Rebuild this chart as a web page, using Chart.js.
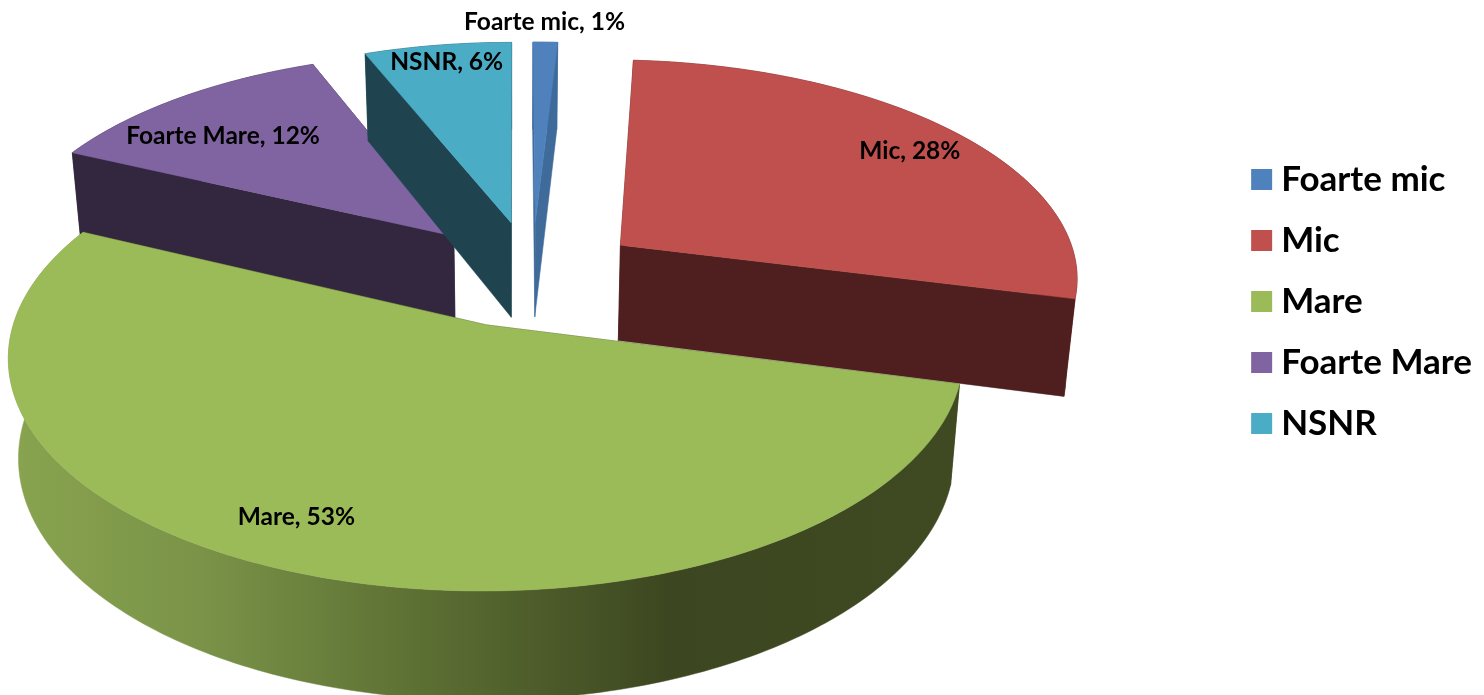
<!DOCTYPE html>
<html><head><meta charset="utf-8">
<style>html,body{margin:0;padding:0;background:#fff;overflow:hidden}#w{width:1484px;height:695px;position:relative}</style>
<script src="https://cdn.jsdelivr.net/npm/chart.js@4"></script>
</head><body><div id="w"><canvas id="c"></canvas></div>
<script>
const categories = ['Foarte mic','Mic','Mare','Foarte Mare','NSNR'];
const percentages = [1,28,53,12,6];
const sliceColors = ['#4f81bd','#c0504d','#9bbb59','#8064a2','#4bacc6'];
const wallColors = ['#3f6b9b','#4f1f1f','#3f4a22','#33273f','#1f444f'];
const explodeX = [21,108,-28,-63,-4];
const explodeY = [-137,-86,82,-106,-136];
const paintOrder = [3,4,0,1,2];
const labelFrac = [1.136,0.845,0.8,0.764,0.892];
const labelNudge = [[-2,1],[6,4],[-44,-1],[-16,7],[2,0]];
const greenWallStops = [[20,'#88a34f'],[200,'#7a9348'],[400,'#5f7335'],[670,'#3c4620'],[950,'#3f4a22']];
const view = {cx:0.34704, cy:0.41007, K:0.475, D:3500, H:97, taper:0.02, wallPow:0.7};

const pie3d = {
  id:'pie3d',
  beforeDatasetsDraw(chart){
    const ctx = chart.ctx, meta = chart.getDatasetMeta(0);
    const cx = chart.width*view.cx, cy = chart.height*view.cy;
    const poly = (pts, fill)=>{ctx.beginPath();pts.forEach((p,i)=>i?ctx.lineTo(p[0],p[1]):ctx.moveTo(p[0],p[1]));ctx.closePath();ctx.fillStyle=fill;ctx.fill();ctx.strokeStyle=fill;ctx.lineWidth=0.5;ctx.stroke();};
    const geom = i=>{
      const el = meta.data[i], mid=(el.startAngle+el.endAngle)/2, ox=explodeX[i], oy=explodeY[i];
      const P=(r,a,z)=>{
        const X=ox+r*Math.cos(a), Y=oy+r*Math.sin(a), f=1/(1-Y/view.D), t=1-z*view.taper;
        return [cx+X*f*t, cy+view.K*Y*f+z*view.H*Math.pow(f,view.wallPow)];
      };
      return {el,P,mid};
    };
    paintOrder.forEach(i=>{
      const {el,P}=geom(i), R=el.outerRadius, s=el.startAngle, e=el.endAngle;
      const n=Math.max(2,Math.ceil((e-s)/(Math.PI/180)));
      const arc=z=>{const a=[];for(let k=0;k<=n;k++)a.push(P(R,s+(e-s)*k/n,z));return a;};
      const wall=wallColors[i];
      poly([P(0,s,0),P(R,s,0),P(R,s,1),P(0,s,1)],wall);
      poly([P(0,e,0),P(R,e,0),P(R,e,1),P(0,e,1)],wall);
      let fill=wall;
      if(i===2){fill=ctx.createLinearGradient(0,0,chart.width,0);greenWallStops.forEach(g=>fill.addColorStop(g[0]/chart.width,g[1]));}
      poly(arc(0).concat(arc(1).reverse()),fill);
      poly([P(0,s,0)].concat(arc(0)),sliceColors[i]);
    });
    ctx.fillStyle='#000';ctx.font='bold 24.5px Lato';ctx.textAlign='center';ctx.textBaseline='middle';
    categories.forEach((c,i)=>{
      const {el,P,mid}=geom(i), p=P(el.outerRadius*labelFrac[i],mid,0);
      ctx.fillText(c+', '+percentages[i]+'%',p[0]+labelNudge[i][0],p[1]+labelNudge[i][1]);
    });
    return false;
  }
};

new Chart(document.getElementById('c'),{
  type:'pie',
  data:{labels:categories,datasets:[{data:percentages,backgroundColor:sliceColors,borderWidth:0}]},
  options:{
    responsive:true,maintainAspectRatio:false,animation:false,radius:462,
    layout:{padding:{bottom:92,right:2}},
    events:[],
    plugins:{
      tooltip:{enabled:false},
      legend:{position:'right',labels:{
        boxWidth:4,boxHeight:4,padding:26,color:'#000',font:{family:'Lato',weight:'bold',size:35},
        generateLabels:ch=>categories.map((t,i)=>({text:t,fillStyle:sliceColors[i],strokeStyle:sliceColors[i],lineWidth:17,index:i,hidden:false}))
      }}
    }
  },
  plugins:[pie3d]
});
</script></body></html>
